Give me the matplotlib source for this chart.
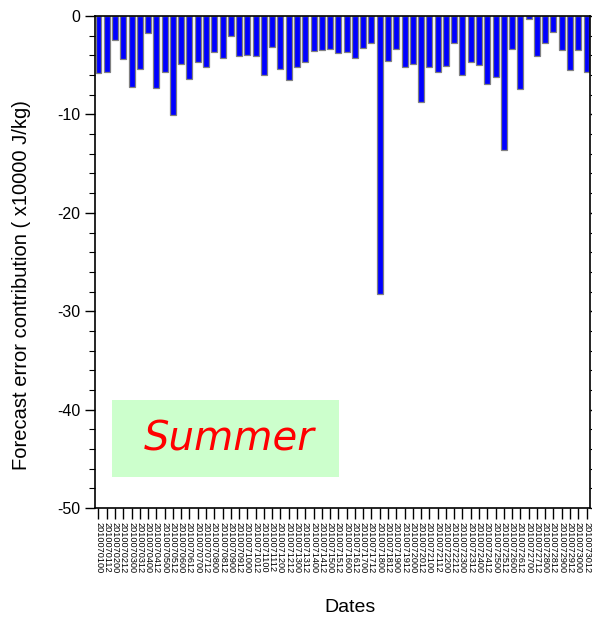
import numpy as np
import matplotlib.pyplot as plt
from matplotlib.ticker import MultipleLocator

plt.rcParams['font.family'] = ['Liberation Sans', 'DejaVu Sans']
plt.rcParams['axes.unicode_minus'] = False

# forecast error contribution (x10000 J/kg), one value per 12-hourly date
contrib = [-5.8, -5.7, -2.4, -4.4, -7.2, -5.35, -1.76, -7.3, -5.7, -10.1,
           -4.9, -6.4, -4.7, -5.2, -3.7, -4.3, -2.0, -4.1, -4.0, -4.1,
           -6.0, -3.15, -5.35, -6.5, -5.2, -4.7, -3.55, -3.5, -3.3, -3.8,
           -3.7, -4.3, -3.2, -2.7, -28.2, -4.6, -3.35, -5.2, -4.9, -8.7,
           -5.2, -5.7, -5.1, -2.75, -6.0, -4.7, -4.95, -6.9, -6.2, -13.6,
           -3.3, -7.4, -0.3, -4.1, -2.7, -1.6, -3.5, -5.5, -3.5, -5.7]

days = ["%02d" % d for d in range(1, 31)]
hours = ["00", "12"]
dates = ["201007" + d + h for d in days for h in hours]

fig = plt.figure(figsize=(5.92, 6.2), dpi=100)
ax = fig.add_axes([0.1605, 0.1806, 0.8361, 0.7935])

x = np.arange(len(contrib))
ax.bar(x, contrib, width=0.72, color='#0000ff', edgecolor='#808080', linewidth=0.9)

ax.set_xlim(-0.42, len(contrib) - 0.58)
ax.set_ylim(-50, 0)
ax.yaxis.set_major_locator(MultipleLocator(10))
ax.yaxis.set_minor_locator(MultipleLocator(2))
ax.tick_params(axis='y', which='major', direction='out', length=7, width=1,
               labelsize=11.5, right=True)
ax.tick_params(axis='y', which='minor', direction='out', length=4, width=0.8, right=True)

ax.set_xticks(x)
ax.set_xticklabels(dates, rotation=270, fontsize=6.6)
ax.tick_params(axis='x', direction='out', length=8, width=1, pad=2)

for s in ax.spines.values():
    s.set_linewidth(1.2)

ax.set_ylabel("Forecast error contribution ( x10000 J/kg)", fontsize=14.5)
ax.yaxis.set_label_coords(-0.13, 0.453)
ax.set_xlabel("Dates", fontsize=14)
ax.xaxis.set_label_coords(0.515, -0.184)

# season label box
ax.add_patch(plt.Rectangle((0.035, 0.063), 0.457, 0.157, transform=ax.transAxes,
                           facecolor='#ccffcc', edgecolor='none'))
ax.text(0.27, 0.14, "Summer", transform=ax.transAxes, color='red',
        fontsize=29, style='italic', ha='center', va='center',
        family=['DejaVu Sans'])

fig.savefig("out.png", dpi=100)
